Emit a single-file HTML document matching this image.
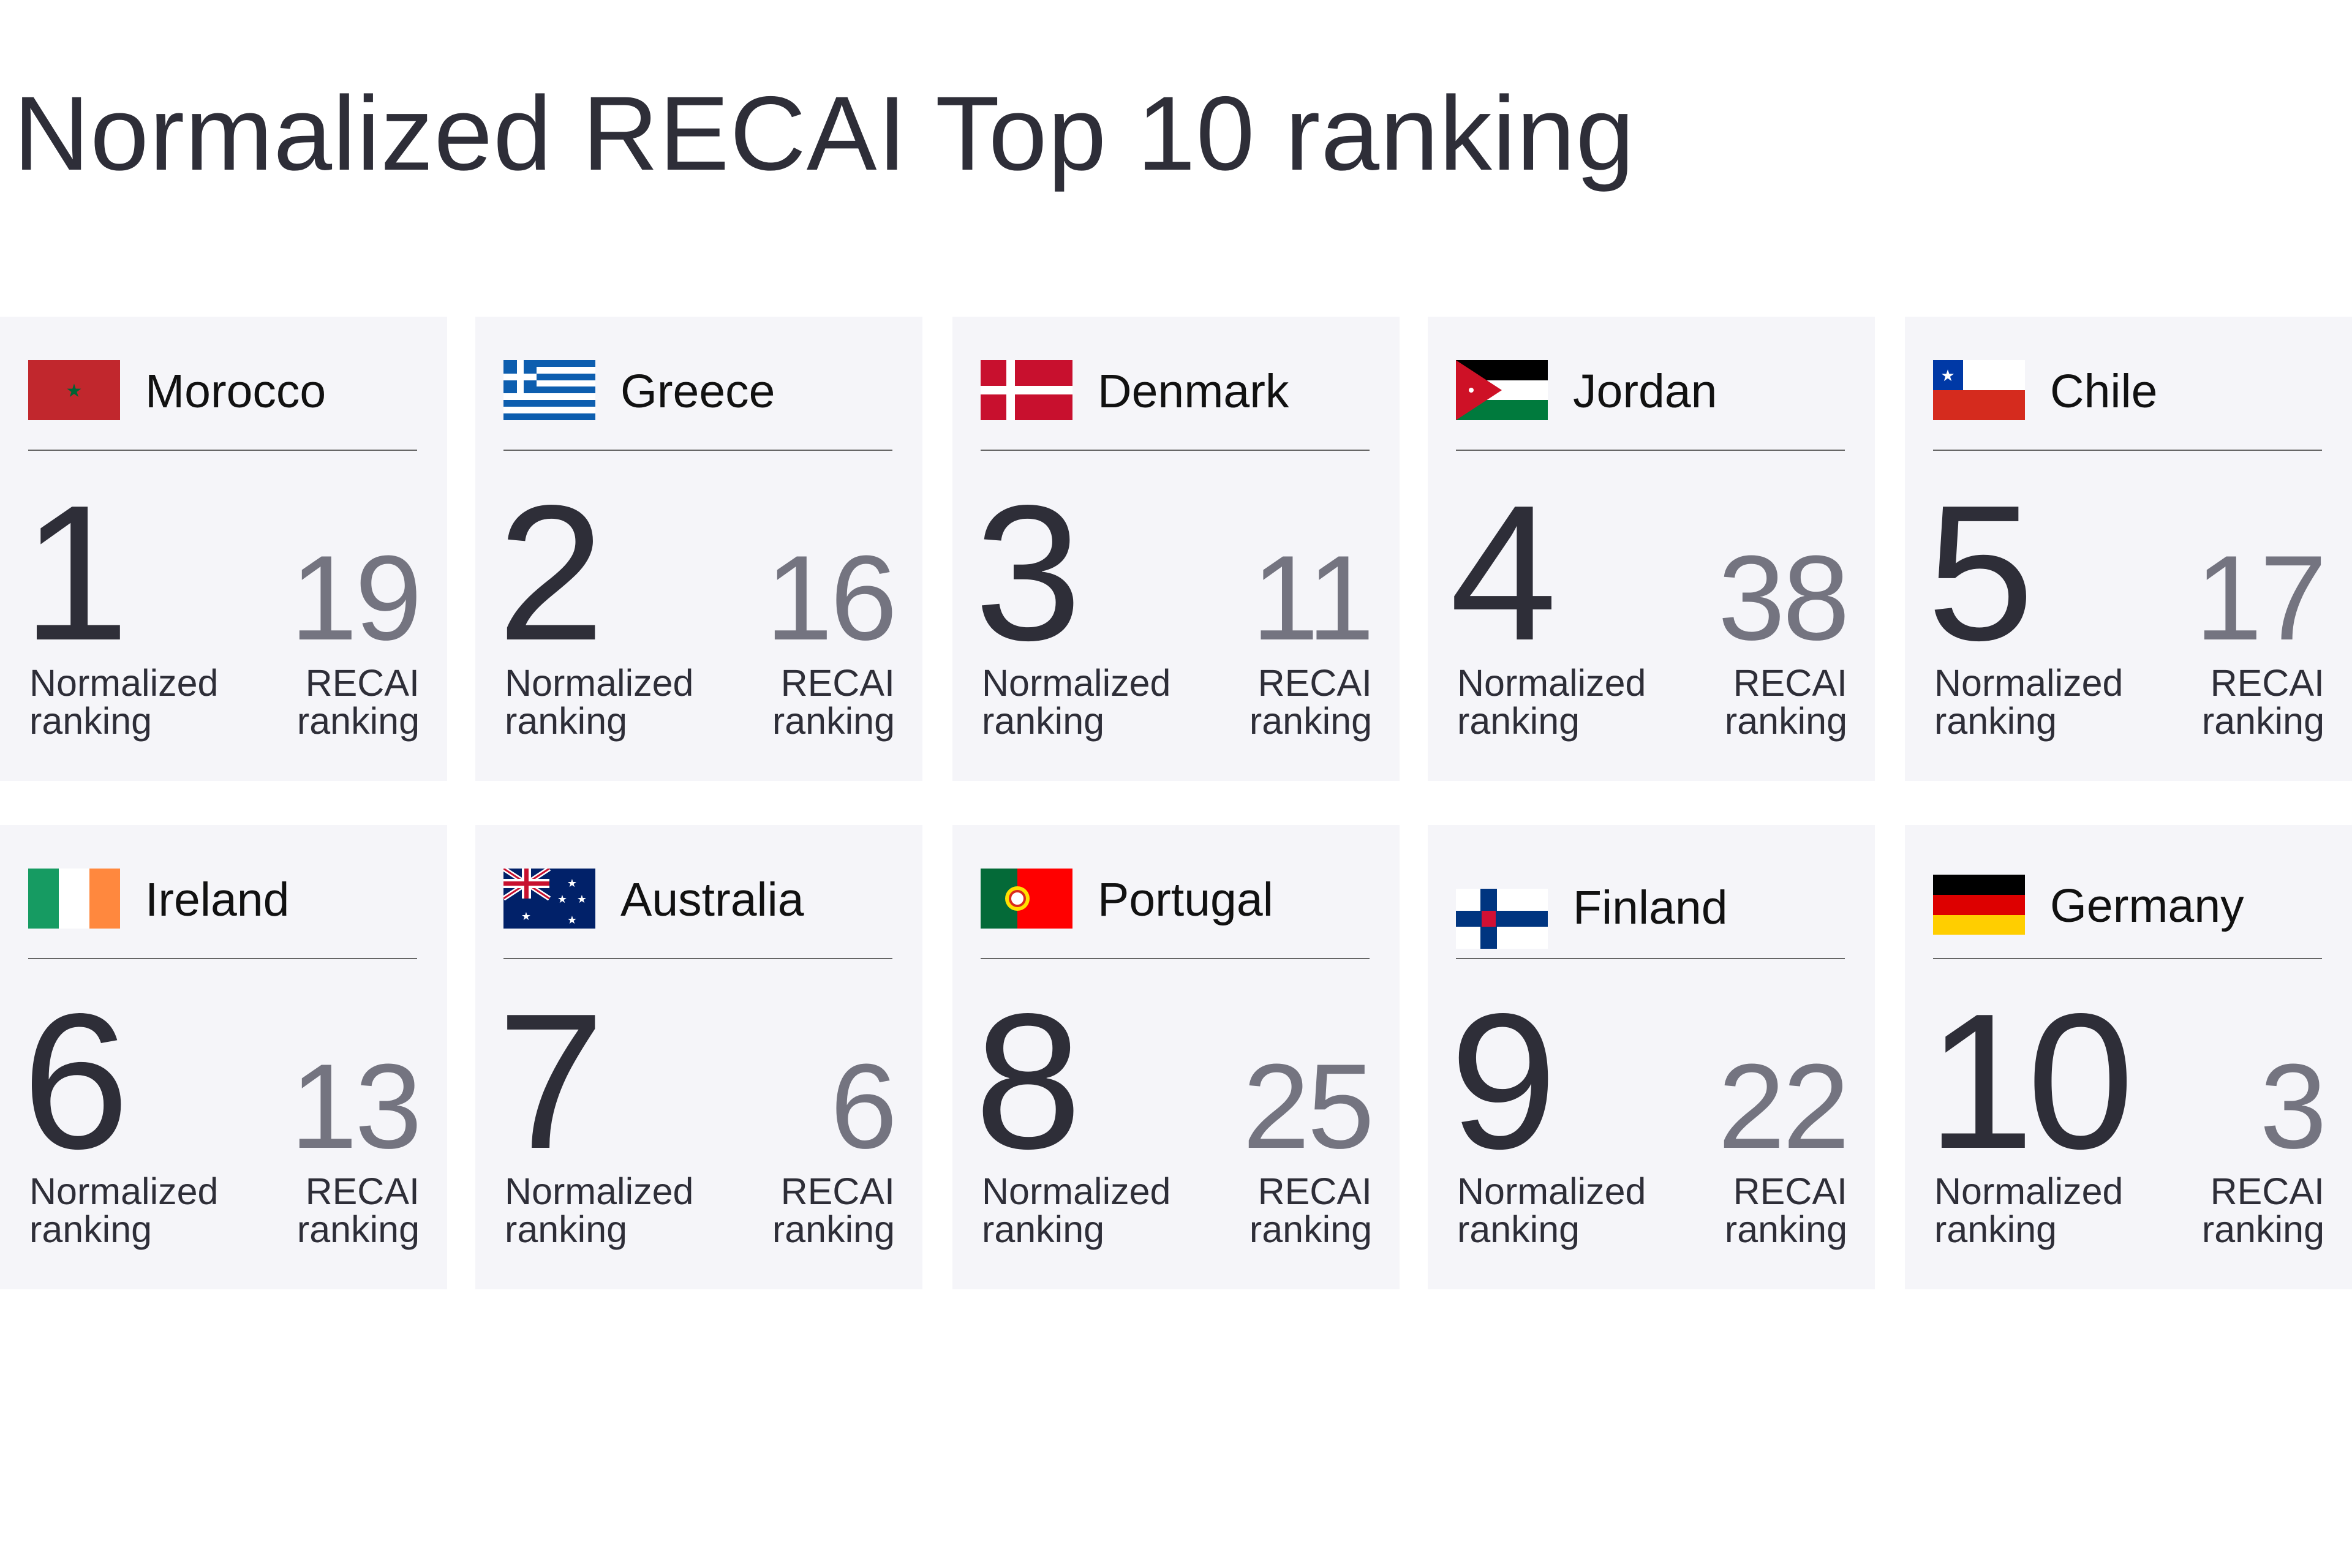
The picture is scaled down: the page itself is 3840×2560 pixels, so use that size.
<!DOCTYPE html>
<html><head><meta charset="utf-8"><style>
body{margin:0;width:3840px;height:2560px;background:#fff;position:relative;overflow:hidden;font-family:"Liberation Sans",sans-serif;}
.title{position:absolute;left:22px;top:132px;font-size:172px;line-height:1;color:#2e2e38;white-space:nowrap;letter-spacing:1px;}
.card{position:absolute;width:730px;height:758px;background:#f5f5f9;}
.flag{position:absolute;left:46px;top:71px;width:150px;height:98px;}
.name{position:absolute;left:237px;top:84px;font-size:77px;line-height:1;color:#111;white-space:nowrap;}
.div{position:absolute;left:46px;top:217px;width:635px;height:2px;background:#666;}
.big{position:absolute;left:36px;top:261px;font-size:315px;line-height:1;color:#2e2e38;letter-spacing:-12px;}
.small{position:absolute;right:45px;top:361px;font-size:197px;line-height:1;color:#747480;letter-spacing:-4px;}
.l1{position:absolute;left:48px;top:567px;font-size:61px;line-height:62px;color:#2e2e38;}
.l2{position:absolute;right:45px;top:567px;font-size:61px;line-height:62px;color:#2e2e38;text-align:right;}
</style></head><body>
<div class="title">Normalized RECAI Top 10 ranking</div>

<div class="card" style="left:0;top:517px">
<svg class="flag" viewBox="0 0 150 98"><rect width="150" height="98" fill="#c1272d"/><text x="75" y="60" font-size="30" fill="#006233" text-anchor="middle">★</text></svg>
<div class="name">Morocco</div><div class="div"></div>
<div class="big">1</div><div class="small">19</div>
<div class="l1">Normalized<br>ranking</div><div class="l2">RECAI<br>ranking</div></div>

<div class="card" style="left:776px;top:517px">
<svg class="flag" viewBox="0 0 150 98"><rect width="150" height="98" fill="#fff"/><g fill="#0d5eaf"><rect y="0" width="150" height="11"/><rect y="22" width="150" height="11"/><rect y="43" width="150" height="11"/><rect y="65" width="150" height="11"/><rect y="87" width="150" height="11"/><rect width="54" height="54"/></g><rect x="22" width="11" height="54" fill="#fff"/><rect y="22" width="54" height="11" fill="#fff"/></svg>
<div class="name">Greece</div><div class="div"></div>
<div class="big">2</div><div class="small">16</div>
<div class="l1">Normalized<br>ranking</div><div class="l2">RECAI<br>ranking</div></div>

<div class="card" style="left:1555px;top:517px">
<svg class="flag" viewBox="0 0 150 98"><rect width="150" height="98" fill="#c8102e"/><rect x="42" width="14" height="98" fill="#fff"/><rect y="42" width="150" height="14" fill="#fff"/></svg>
<div class="name">Denmark</div><div class="div"></div>
<div class="big">3</div><div class="small">11</div>
<div class="l1">Normalized<br>ranking</div><div class="l2">RECAI<br>ranking</div></div>

<div class="card" style="left:2331px;top:517px">
<svg class="flag" viewBox="0 0 150 98"><rect width="150" height="33" fill="#000"/><rect y="33" width="150" height="32" fill="#fff"/><rect y="65" width="150" height="33" fill="#007a3d"/><polygon points="0,0 75,49 0,98" fill="#ce1126"/><circle cx="25" cy="49" r="4" fill="#fff"/></svg>
<div class="name">Jordan</div><div class="div"></div>
<div class="big">4</div><div class="small">38</div>
<div class="l1">Normalized<br>ranking</div><div class="l2">RECAI<br>ranking</div></div>

<div class="card" style="left:3110px;top:517px">
<svg class="flag" viewBox="0 0 150 98"><rect width="150" height="49" fill="#fff"/><rect y="49" width="150" height="49" fill="#d52b1e"/><rect width="49" height="49" fill="#0039a6"/><text x="24" y="34" font-size="26" fill="#fff" text-anchor="middle">★</text></svg>
<div class="name">Chile</div><div class="div"></div>
<div class="big">5</div><div class="small">17</div>
<div class="l1">Normalized<br>ranking</div><div class="l2">RECAI<br>ranking</div></div>

<div class="card" style="left:0;top:1347px">
<svg class="flag" viewBox="0 0 150 98"><rect width="50" height="98" fill="#169b62"/><rect x="50" width="50" height="98" fill="#fff"/><rect x="100" width="50" height="98" fill="#ff883e"/></svg>
<div class="name">Ireland</div><div class="div"></div>
<div class="big">6</div><div class="small">13</div>
<div class="l1">Normalized<br>ranking</div><div class="l2">RECAI<br>ranking</div></div>

<div class="card" style="left:776px;top:1347px">
<svg class="flag" viewBox="0 0 150 98"><rect width="150" height="98" fill="#012169"/><g stroke="#fff" stroke-width="8"><line x1="0" y1="0" x2="75" y2="49"/><line x1="75" y1="0" x2="0" y2="49"/></g><g stroke="#c8102e" stroke-width="3"><line x1="0" y1="0" x2="75" y2="49"/><line x1="75" y1="0" x2="0" y2="49"/></g><rect x="30" width="15" height="49" fill="#fff"/><rect y="17" width="75" height="15" fill="#fff"/><rect x="34" width="7" height="49" fill="#c8102e"/><rect y="21" width="75" height="7" fill="#c8102e"/><g fill="#fff" font-size="18" text-anchor="middle"><text x="37" y="84">★</text><text x="112" y="30">★</text><text x="96" y="56">★</text><text x="128" y="56">★</text><text x="112" y="90">★</text></g></svg>
<div class="name">Australia</div><div class="div"></div>
<div class="big">7</div><div class="small">6</div>
<div class="l1">Normalized<br>ranking</div><div class="l2">RECAI<br>ranking</div></div>

<div class="card" style="left:1555px;top:1347px">
<svg class="flag" viewBox="0 0 150 98"><rect width="60" height="98" fill="#046a38"/><rect x="60" width="90" height="98" fill="#f00"/><circle cx="60" cy="49" r="20" fill="#ffe000"/><circle cx="60" cy="49" r="12" fill="#fff" stroke="#da291c" stroke-width="4"/></svg>
<div class="name">Portugal</div><div class="div"></div>
<div class="big">8</div><div class="small">25</div>
<div class="l1">Normalized<br>ranking</div><div class="l2">RECAI<br>ranking</div></div>

<div class="card" style="left:2331px;top:1347px">
<svg class="flag" viewBox="0 0 150 98" style="top:104px"><rect width="150" height="98" fill="#fff"/><rect x="40" width="27" height="98" fill="#003580"/><rect y="36" width="150" height="26" fill="#003580"/><rect x="42" y="36" width="23" height="26" fill="#d21034"/></svg>
<div class="name" style="top:97px">Finland</div><div class="div"></div>
<div class="big">9</div><div class="small">22</div>
<div class="l1">Normalized<br>ranking</div><div class="l2">RECAI<br>ranking</div></div>

<div class="card" style="left:3110px;top:1347px">
<svg class="flag" viewBox="0 0 150 98" style="top:81px"><rect width="150" height="33" fill="#000"/><rect y="33" width="150" height="33" fill="#d00"/><rect y="66" width="150" height="32" fill="#ffce00"/></svg>
<div class="name" style="top:94px">Germany</div><div class="div"></div>
<div class="big">10</div><div class="small">3</div>
<div class="l1">Normalized<br>ranking</div><div class="l2">RECAI<br>ranking</div></div>
</body></html>
